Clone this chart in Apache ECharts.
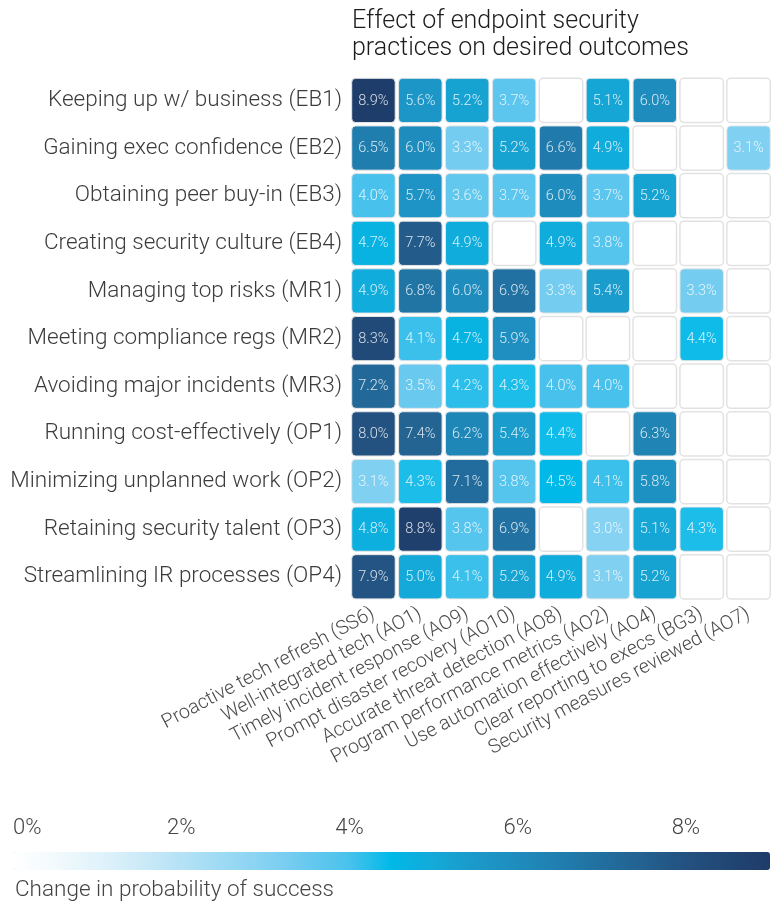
<!DOCTYPE html>
<html>
<head>
<meta charset="utf-8">
<script src="https://cdn.jsdelivr.net/npm/echarts@6/dist/echarts.min.js"></script>
<style>
  html, body { margin: 0; padding: 0; background: #fff; }
  #chart { width: 772px; height: 905px; }
</style>
</head>
<body>
<div id="chart"></div>
<script>
// outcomes (rows, top to bottom)
const outcomes = [
  'Keeping up w/ business (EB1)',
  'Gaining exec confidence (EB2)',
  'Obtaining peer buy-in (EB3)',
  'Creating security culture (EB4)',
  'Managing top risks (MR1)',
  'Meeting compliance regs (MR2)',
  'Avoiding major incidents (MR3)',
  'Running cost-effectively (OP1)',
  'Minimizing unplanned work (OP2)',
  'Retaining security talent (OP3)',
  'Streamlining IR processes (OP4)'
]
// practices (columns, left to right)
const practices = [
  'Proactive tech refresh (SS6)',
  'Well-integrated tech (AO1)',
  'Timely incident response (AO9)',
  'Prompt disaster recovery (AO10)',
  'Accurate threat detection (AO8)',
  'Program performance metrics (AO2)',
  'Use automation effectively (AO4)',
  'Clear reporting to execs (BG3)',
  'Security measures reviewed (AO7)'
]
// % change per outcome, one value per practice (null = no cell)
const EB1 = [8.9, 5.6, 5.2, 3.7, null, 5.1, 6.0, null, null]
const EB2 = [6.5, 6.0, 3.3, 5.2, 6.6, 4.9, null, null, 3.1]
const EB3 = [4.0, 5.7, 3.6, 3.7, 6.0, 3.7, 5.2, null, null]
const EB4 = [4.7, 7.7, 4.9, null, 4.9, 3.8, null, null, null]
const MR1 = [4.9, 6.8, 6.0, 6.9, 3.3, 5.4, null, 3.3, null]
const MR2 = [8.3, 4.1, 4.7, 5.9, null, null, null, 4.4, null]
const MR3 = [7.2, 3.5, 4.2, 4.3, 4.0, 4.0, null, null, null]
const OP1 = [8.0, 7.4, 6.2, 5.4, 4.4, null, 6.3, null, null]
const OP2 = [3.1, 4.3, 7.1, 3.8, 4.5, 4.1, 5.8, null, null]
const OP3 = [4.8, 8.8, 3.8, 6.9, null, 3.0, 5.1, 4.3, null]
const OP4 = [7.9, 5.0, 4.1, 5.2, 4.9, 3.1, 5.2, null, null]
const rows = [EB1, EB2, EB3, EB4, MR1, MR2, MR3, OP1, OP2, OP3, OP4]

// colour scale ticks
const scaleMin = 0
const scaleMax = 9
const scaleStep = 2

let cells = []
let empties = []
rows.forEach((r, y) => {
  r.forEach((v, x) => {
    if (v == null) empties.push([x, y])
    else cells.push([x, y, v])
  })
})

const font = 'Roboto, "Noto Sans", sans-serif'

function cellShape(api) {
  const c = api.coord([api.value(0), api.value(1)])
  const s = api.size([1, 1])
  const g = 1.7
  return { x: c[0] - s[0] / 2 + g, y: c[1] - s[1] / 2 + g, width: s[0] - 2 * g, height: s[1] - 2 * g, r: 4 }
}

let myChart = echarts.init(document.getElementById('chart'))
let option = {
  animation: false,
  title: [
    {
      text: 'Effect of endpoint security\npractices on desired outcomes',
      left: 347, top: 3,
      textStyle: { fontFamily: font, fontSize: 25, fontWeight: 300, color: '#1c1c1c', lineHeight: 27 }
    },
    {
      text: 'Change in probability of success',
      left: 10, top: 874,
      textStyle: { fontFamily: font, fontSize: 22.5, fontWeight: 300, color: '#444' }
    }
  ],
  grid: [
    { left: 350, top: 76.6, width: 428.6, height: 524 },
    { left: 13, top: 852, width: 757, height: 18 }
  ],
  xAxis: [
    {
      type: 'category', gridIndex: 0, data: practices, position: 'bottom',
      axisLine: { show: false }, axisTick: { show: false }, splitLine: { show: false },
      axisLabel: { interval: 0, rotate: 28, margin: 12, fontFamily: font, fontSize: 19.5, fontWeight: 300, color: '#4a4a4a' }
    },
    {
      type: 'value', gridIndex: 1, min: scaleMin, max: scaleMax, interval: scaleStep, position: 'top', z: 10,
      axisLine: { show: false }, splitLine: { show: false },
      axisTick: { show: true, inside: true, length: 18, lineStyle: { color: '#fff', width: 1.5 } },
      axisLabel: {
        margin: 13, fontFamily: font, fontSize: 22, fontWeight: 300, color: '#444',
        formatter: '{value}%', showMaxLabel: false, alignMinLabel: 'left'
      }
    }
  ],
  yAxis: [
    {
      type: 'category', gridIndex: 0, data: outcomes, inverse: true,
      axisLine: { show: false }, axisTick: { show: false }, splitLine: { show: false },
      axisLabel: { margin: 8, fontFamily: font, fontSize: 22.5, fontWeight: 300, color: '#3c3c3c' }
    },
    { type: 'value', gridIndex: 1, show: false }
  ],
  visualMap: {
    type: 'continuous', min: scaleMin, max: scaleMax, dimension: 2, seriesIndex: 1,
    orient: 'horizontal', left: 13, top: 852, itemWidth: 18, itemHeight: 757,
    padding: 0, text: ['', ''], calculable: false, hoverLink: false,
    inRange: {
      color: ['#ffffff', '#f2fafd', '#e2f3fb', '#cdebf8', '#b5e2f6', '#9ddaf4', '#85d2f2', '#69c9ef', '#48c2ec',
        '#00b9e8', '#14a9d8', '#1b99c9', '#1f8cbe', '#207eaf', '#216f9f', '#236190', '#235180', '#214674', '#1e3b69']
    }
  },
  series: [
    {
      // blank cells
      type: 'custom', xAxisIndex: 0, yAxisIndex: 0, data: empties, silent: true,
      encode: { x: 0, y: 1 },
      renderItem: (params, api) => ({
        type: 'rect', shape: cellShape(api),
        style: { fill: '#fff', stroke: '#e2e2e2', lineWidth: 1.5 }
      })
    },
    {
      type: 'custom', xAxisIndex: 0, yAxisIndex: 0, data: cells,
      dimensions: ['x', 'y', 'value'],
      encode: { x: 0, y: 1 },
      renderItem: (params, api) => {
        const sh = cellShape(api)
        return {
          type: 'group',
          children: [
            { type: 'rect', shape: sh, style: { fill: api.visual('color'), stroke: '#e6e6e6', lineWidth: 1 } },
            {
              type: 'text', x: sh.x + sh.width / 2, y: sh.y + sh.height / 2 + 0.5,
              style: {
                text: api.value(2).toFixed(1) + '%', fill: 'rgba(255,255,255,0.82)',
                font: '300 14.5px ' + font, align: 'center', verticalAlign: 'middle'
              }
            }
          ]
        }
      }
    }
  ]
}
myChart.setOption(option)
</script>
</body>
</html>
